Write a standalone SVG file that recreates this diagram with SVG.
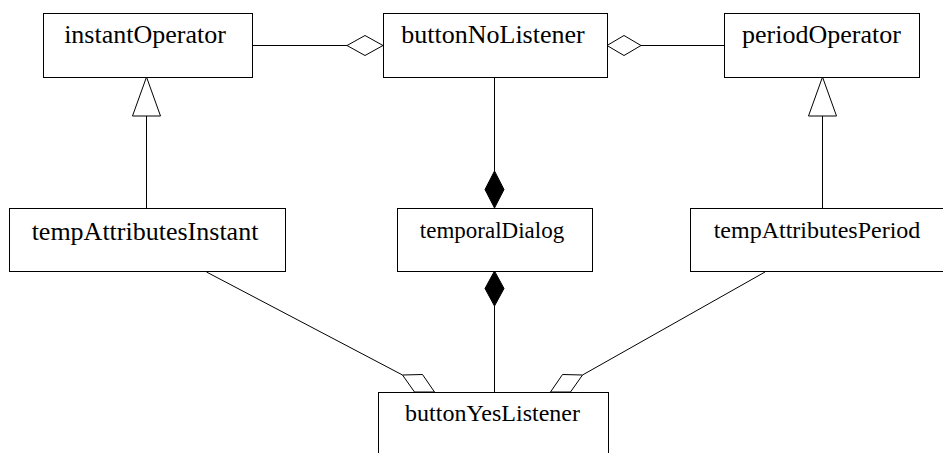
<svg xmlns="http://www.w3.org/2000/svg" width="943" height="453" viewBox="0 0 943 453">
<style>
.box{fill:#fff;stroke:#000;stroke-width:1}
.ln{fill:none;stroke:#000;stroke-width:1}
.od{fill:#fff;stroke:#000;stroke-width:1}
.fd{fill:#000;stroke:#000;stroke-width:1}
.t{font-family:"Liberation Serif","Times New Roman",serif;fill:#000;text-anchor:middle}
</style>
<rect width="943" height="453" fill="#fff"/>
<g id="connectors">
<line class="ln" x1="252" y1="45.5" x2="347" y2="45.5"/>
<polygon class="od" points="347,45.5 365,35.5 383,45.5 365,55.5"/>
<line class="ln" x1="641" y1="45.5" x2="724" y2="45.5"/>
<polygon class="od" points="607,45.5 624,35.5 641,45.5 624,55.5"/>
<line class="ln" x1="146.5" y1="116" x2="146.5" y2="208"/>
<polygon class="od" points="146.5,77 132.5,116 160.5,116"/>
<line class="ln" x1="822.5" y1="116" x2="822.5" y2="208"/>
<polygon class="od" points="822.5,77 808.5,116 836.5,116"/>
<line class="ln" x1="494.5" y1="77" x2="494.5" y2="171"/>
<polygon class="fd" points="494.5,171 504,189.5 494.5,208 485,189.5"/>
<line class="ln" x1="494.5" y1="306" x2="494.5" y2="392"/>
<polygon class="fd" points="494.5,271 504,288.5 494.5,306 485,288.5"/>
<line class="ln" x1="206.5" y1="272" x2="402.5" y2="375"/>
<polygon class="od" points="402.5,375 422.5,374.5 434.5,392 414.5,392"/>
<line class="ln" x1="765" y1="272" x2="582.5" y2="375"/>
<polygon class="od" points="582.5,375 562.5,374.5 550.5,392 570.5,392"/>
</g>
<g id="instantOperator">
<rect class="box" x="43.5" y="13.5" width="209" height="64"/>
<text class="t" x="145" y="43" font-size="26">instantOperator</text>
</g>
<g id="buttonNoListener">
<rect class="box" x="383.5" y="13.5" width="224" height="64"/>
<text class="t" x="493" y="43" font-size="26">buttonNoListener</text>
</g>
<g id="periodOperator">
<rect class="box" x="724.5" y="13.5" width="195" height="64"/>
<text class="t" x="821.5" y="43" font-size="26">periodOperator</text>
</g>
<g id="tempAttributesInstant">
<rect class="box" x="9.5" y="208.5" width="276" height="63"/>
<text class="t" x="145" y="240" font-size="26">tempAttributesInstant</text>
</g>
<g id="temporalDialog">
<rect class="box" x="397.5" y="208.5" width="195" height="63"/>
<text class="t" x="492" y="238" font-size="23">temporalDialog</text>
</g>
<g id="tempAttributesPeriod">
<rect class="box" x="690.5" y="208.5" width="260" height="63"/>
<text class="t" x="817" y="237.5" font-size="24">tempAttributesPeriod</text>
</g>
<g id="buttonYesListener">
<rect class="box" x="378.5" y="392.5" width="230" height="80"/>
<text class="t" x="492.5" y="421" font-size="24">buttonYesListener</text>
</g>
</svg>
